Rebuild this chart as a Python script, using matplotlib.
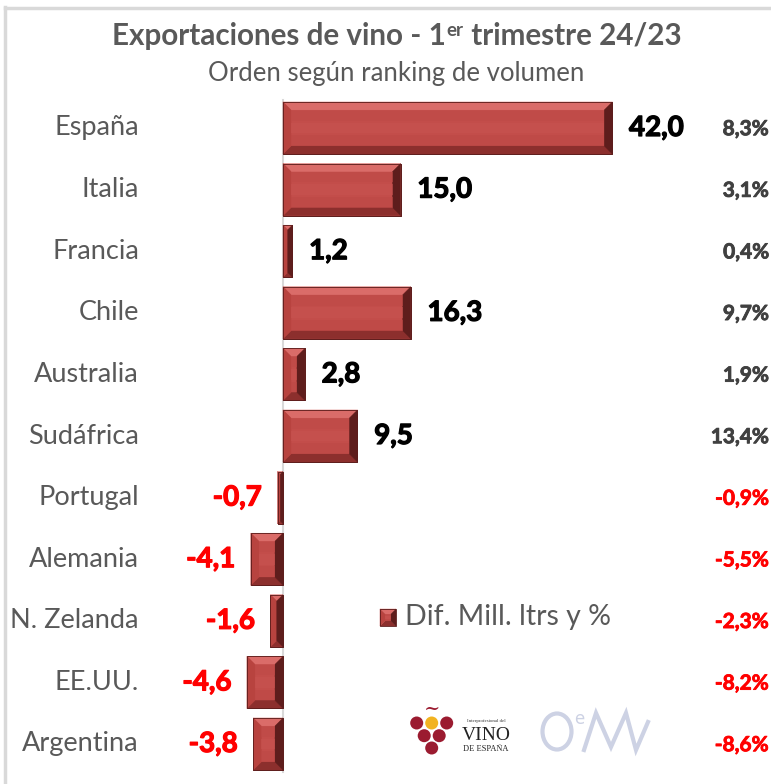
import matplotlib
matplotlib.use("Agg")
import matplotlib.pyplot as plt
import matplotlib.patheffects as pe
from matplotlib.patches import Polygon, Rectangle, Circle, Ellipse
from matplotlib.transforms import IdentityTransform, blended_transform_factory
from matplotlib.lines import Line2D

plt.rcParams['font.family'] = ['Lato', 'DejaVu Sans']

countries = ["España", "Italia", "Francia", "Chile", "Australia", "Sudáfrica",
             "Portugal", "Alemania", "N. Zelanda", "EE.UU.", "Argentina"]
diff_mill_l = [42.0, 15.0, 1.2, 16.3, 2.8, 9.5, -0.7, -4.1, -1.6, -4.6, -3.8]
diff_pct = [8.3, 3.1, 0.4, 9.7, 1.9, 13.4, -0.9, -5.5, -2.3, -8.2, -8.6]

W, H, DPI = 771, 784, 100
fig = plt.figure(figsize=(W / DPI, H / DPI), dpi=DPI)
ax = fig.add_axes([0, 0, 1, 1])
ax.set_axis_off()

# pixel mapping: zero at x=283, 7.84 px per unit; rows at y=128 + 61.6*i (from top)
x0px, pxu = 283.0, 7.84
y0px, rowpx = 128.0, 61.6
ax.set_xlim((0 - x0px) / pxu, (W - x0px) / pxu)
ax.set_ylim((H - y0px) / rowpx, (0 - y0px) / rowpx)

ypos = list(range(len(countries)))
GRAY = "#595959"

bars = ax.barh(ypos, diff_mill_l, height=0.845, color="#C24D4A",
               edgecolor="#6E2422", linewidth=0.6, zorder=3)

# zero line
ax.plot([0, 0], [-0.45, len(countries) - 0.55], color="#D9D9D9", lw=1.5, zorder=2)


def bevel(L, B, R, T, bw=8):
    """Draw bevel polygons in display (pixel) coords."""
    w, h = R - L, T - B
    b = min(bw, w / 2.0, h / 2.0)
    polys = [
        ([(L + b, B + b), (R - b, B + b), (R - b, T - b), (L + b, T - b)], "#C34D4A"),
        ([(L, T), (R, T), (R - b, T - b), (L + b, T - b)], "#DA6C69"),
        ([(L, B), (R, B), (R - b, B + b), (L + b, B + b)], "#8C2F2D"),
        ([(L, B), (L, T), (L + b, T - b), (L + b, B + b)], "#B8433F"),
        ([(R, B), (R, T), (R - b, T - b), (R - b, B + b)], "#5E1D1C"),
    ]
    for pts, c in polys:
        fig.patches.append(Polygon(pts, closed=True, facecolor=c, edgecolor=c,
                                   lw=0.3, transform=IdentityTransform(), zorder=4))
    # soft vertical shading on the face
    if w - 2 * b > 2 and h - 2 * b > 6:
        fh = h - 2 * b
        for frac, c in [(0.0, "#BD4845"), (0.35, "#C75350"), (0.7, "#BF4A47")]:
            fig.patches.append(Rectangle((L + b, B + b + frac * fh), w - 2 * b, fh * 0.3,
                                         facecolor=c, edgecolor="none", alpha=0.6,
                                         transform=IdentityTransform(), zorder=4))
    fig.patches.append(Rectangle((L, B), w, h, facecolor="none", edgecolor="#5A1B1A",
                                 lw=0.6, transform=IdentityTransform(), zorder=5))


for bar in bars:
    (xa, ya), (xb, yb) = ax.transData.transform(
        [(bar.get_x(), bar.get_y()), (bar.get_x() + bar.get_width(), bar.get_y() + bar.get_height())])
    bevel(min(xa, xb), min(ya, yb), max(xa, xb), max(ya, yb))


def heavy(color, lw):
    return [pe.Stroke(linewidth=lw, foreground=color), pe.Normal()]


# value labels
for y, v in zip(ypos, diff_mill_l):
    s = f"{v:.1f}".replace(".", ",")
    col = "black" if v >= 0 else "#FF0000"
    if v >= 0:
        ax.annotate(s, (v, y), xytext=(12, 0), textcoords="offset points",
                    ha="left", va="center", fontsize=20, fontweight="bold",
                    color=col, zorder=6, path_effects=heavy(col, 0.9))
    else:
        ax.annotate(s, (v, y), xytext=(-11, 0), textcoords="offset points",
                    ha="right", va="center", fontsize=20, fontweight="bold",
                    color=col, zorder=6, path_effects=heavy(col, 0.9))

# percentage labels
tr = blended_transform_factory(ax.transAxes, ax.transData)
for y, p in zip(ypos, diff_pct):
    s = f"{p:.1f}%".replace(".", ",")
    col = "#404040" if p >= 0 else "#FF0000"
    ax.text(769 / W, y + 0.02, s, transform=tr, ha="right", va="center",
            fontsize=15, fontweight="bold", color=col,
            path_effects=heavy(col, 0.6))

# category labels
for y, c in zip(ypos, countries):
    ax.text(139 / W, y, c, transform=tr, ha="right", va="center",
            fontsize=19.5, color=GRAY)

# border (left & top)
fig.add_artist(Line2D([4.5 / W, 4.5 / W], [0, 1 - 7 / H], color="#D9D9D9", lw=2.5))
fig.add_artist(Line2D([4.5 / W, 1], [1 - 7.5 / H, 1 - 7.5 / H], color="#D9D9D9", lw=2.5))

# title with superscript
fig.canvas.draw()
r = fig.canvas.get_renderer()
ty = 1 - 45 / H
t1 = fig.text(0, ty, "Exportaciones de vino - 1", fontsize=21.3, fontweight="bold",
              color=GRAY, ha="left", va="baseline")
t2 = fig.text(0, ty + 9 / H, "er", fontsize=13.5, fontweight="bold",
              color=GRAY, ha="left", va="baseline")
t3 = fig.text(0, ty, " trimestre 24/23", fontsize=21.3, fontweight="bold",
              color=GRAY, ha="left", va="baseline")
w1 = t1.get_window_extent(r).width
w2 = t2.get_window_extent(r).width
w3 = t3.get_window_extent(r).width
tot = w1 + w2 + w3
xs = 396 - tot / 2
t1.set_x(xs / W)
t2.set_x((xs + w1 + 1) / W)
t3.set_x((xs + w1 + w2 + 1) / W)
fig.text(396 / W, 1 - 73 / H, "Orden según ranking de volumen", fontsize=18.5,
         color=GRAY, ha="center", va="center")

# legend
bevel(380, H - 626, 396, H - 609, bw=5)
fig.text(405 / W, 1 - 617 / H, "Dif. Mill. ltrs y %", fontsize=20.5, color=GRAY,
         ha="left", va="center")

# logos (decorative)
for (cx, cy, col) in [(416.7, 723, "#9B1B30"), (431.7, 723, "#F2B320"), (446.7, 723, "#9B1B30"),
                      (424.2, 735.7, "#9B1B30"), (439.2, 735.7, "#9B1B30"), (431.7, 748, "#9B1B30")]:
    fig.patches.append(Circle((cx, H - cy), 6.5, facecolor=col, edgecolor="none",
                              transform=IdentityTransform()))
fig.text(432 / W, 1 - 709 / H, "~", fontsize=14, color="#9B1B30", ha="center", va="center",
         family="DejaVu Serif")
fig.text(486 / W, 1 - 721 / H, "Interprofesional del", fontsize=3.5, color="#333333",
         ha="center", va="center", family="Liberation Serif")
fig.text(486 / W, 1 - 735 / H, "VINO", fontsize=14, color="#222222",
         ha="center", va="center", family="Liberation Serif")
fig.text(486 / W, 1 - 749 / H, "DE ESPAÑA", fontsize=6, color="#222222",
         ha="center", va="center", family="Liberation Serif")
LOGO = "#CDD2E4"
fig.patches.append(Ellipse((557, H - 731.5), 29, 36, facecolor="none", edgecolor=LOGO,
                           lw=3, transform=IdentityTransform()))
fig.text(574 / W, 1 - 719 / H, "e", fontsize=12, color=LOGO, ha="left", va="center",
         family="DejaVu Sans")
fig.add_artist(Line2D([584, 596, 611, 626, 636, 648],
                      [H - 750, H - 713, H - 747, H - 713, H - 750, H - 722],
                      color=LOGO, lw=3, transform=IdentityTransform(),
                      solid_joinstyle="miter"))

fig.savefig("out.png", dpi=DPI)
